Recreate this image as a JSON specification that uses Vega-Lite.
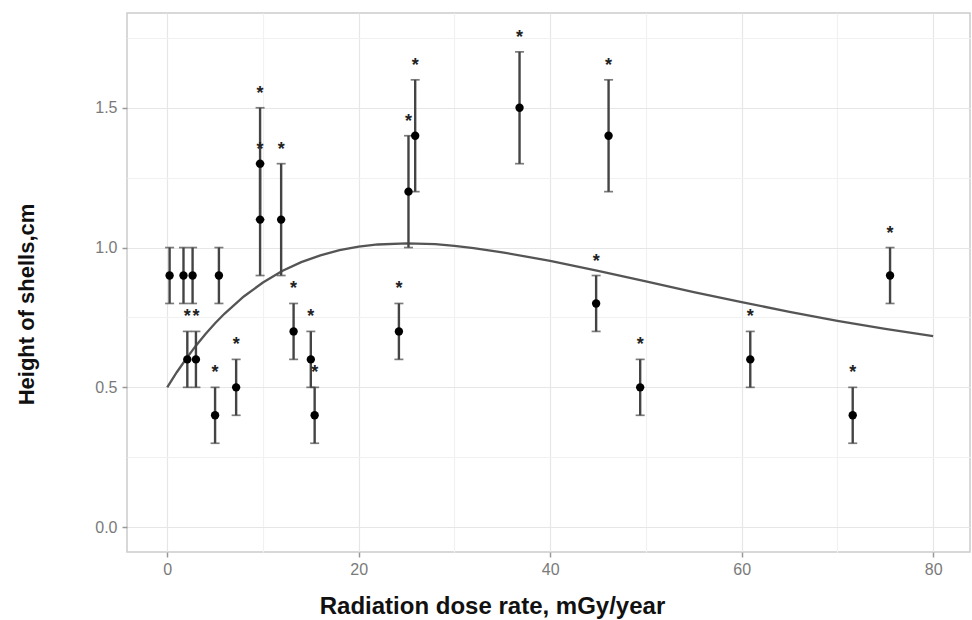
{
  "$schema": "https://vega.github.io/schema/vega-lite/v6.json",
  "width": 843,
  "height": 539,
  "autosize": "none",
  "padding": {"left": 127, "top": 13, "right": 2, "bottom": 68},
  "background": "white",
  "config": {
    "view": {"stroke": "#cccccc", "strokeWidth": 1.5},
    "font": "Liberation Sans"
  },
  "datasets": {
    "points": [
      {"dose": 0.25, "height": 0.9, "lo": 0.8, "hi": 1.0, "star": 0},
      {"dose": 1.7, "height": 0.9, "lo": 0.8, "hi": 1.0, "star": 0},
      {"dose": 2.65, "height": 0.9, "lo": 0.8, "hi": 1.0, "star": 0},
      {"dose": 5.4, "height": 0.9, "lo": 0.8, "hi": 1.0, "star": 0},
      {"dose": 2.1, "height": 0.6, "lo": 0.5, "hi": 0.7, "star": 1},
      {"dose": 3.0, "height": 0.6, "lo": 0.5, "hi": 0.7, "star": 1},
      {"dose": 5.0, "height": 0.4, "lo": 0.3, "hi": 0.5, "star": 1},
      {"dose": 7.2, "height": 0.5, "lo": 0.4, "hi": 0.6, "star": 1},
      {"dose": 9.7, "height": 1.3, "lo": 1.1, "hi": 1.5, "star": 1},
      {"dose": 9.7, "height": 1.1, "lo": 0.9, "hi": 1.3, "star": 1},
      {"dose": 11.9, "height": 1.1, "lo": 0.9, "hi": 1.3, "star": 1},
      {"dose": 13.2, "height": 0.7, "lo": 0.6, "hi": 0.8, "star": 1},
      {"dose": 15.0, "height": 0.6, "lo": 0.5, "hi": 0.7, "star": 1},
      {"dose": 15.4, "height": 0.4, "lo": 0.3, "hi": 0.5, "star": 1},
      {"dose": 24.2, "height": 0.7, "lo": 0.6, "hi": 0.8, "star": 1},
      {"dose": 25.2, "height": 1.2, "lo": 1.0, "hi": 1.4, "star": 1},
      {"dose": 25.9, "height": 1.4, "lo": 1.2, "hi": 1.6, "star": 1},
      {"dose": 36.8, "height": 1.5, "lo": 1.3, "hi": 1.7, "star": 1},
      {"dose": 44.8, "height": 0.8, "lo": 0.7, "hi": 0.9, "star": 1},
      {"dose": 46.1, "height": 1.4, "lo": 1.2, "hi": 1.6, "star": 1},
      {"dose": 49.4, "height": 0.5, "lo": 0.4, "hi": 0.6, "star": 1},
      {"dose": 60.9, "height": 0.6, "lo": 0.5, "hi": 0.7, "star": 1},
      {"dose": 71.6, "height": 0.4, "lo": 0.3, "hi": 0.5, "star": 1},
      {"dose": 75.5, "height": 0.9, "lo": 0.8, "hi": 1.0, "star": 1}
    ],
    "curve": [
      {"dose": 0, "fit": 0.5},
      {"dose": 1, "fit": 0.554},
      {"dose": 2, "fit": 0.603},
      {"dose": 3, "fit": 0.649},
      {"dose": 4, "fit": 0.691},
      {"dose": 5, "fit": 0.729},
      {"dose": 6, "fit": 0.764},
      {"dose": 8, "fit": 0.825},
      {"dose": 10, "fit": 0.875},
      {"dose": 12, "fit": 0.916},
      {"dose": 14, "fit": 0.948},
      {"dose": 16, "fit": 0.972},
      {"dose": 18, "fit": 0.991},
      {"dose": 20, "fit": 1.003},
      {"dose": 22, "fit": 1.011},
      {"dose": 25, "fit": 1.015},
      {"dose": 28, "fit": 1.012},
      {"dose": 30, "fit": 1.006},
      {"dose": 32, "fit": 0.998},
      {"dose": 35, "fit": 0.983},
      {"dose": 40, "fit": 0.952},
      {"dose": 45, "fit": 0.917},
      {"dose": 50, "fit": 0.879},
      {"dose": 55, "fit": 0.841},
      {"dose": 60, "fit": 0.805},
      {"dose": 65, "fit": 0.770},
      {"dose": 70, "fit": 0.738},
      {"dose": 75, "fit": 0.709},
      {"dose": 80, "fit": 0.683}
    ]
  },
  "encoding": {
    "x": {
      "field": "dose",
      "type": "quantitative",
      "scale": {"domain": [-4.2, 83.85], "nice": false, "zero": false},
      "axis": {
        "title": "Radiation dose rate, mGy/year",
        "values": [0, 10, 20, 30, 40, 50, 60, 70, 80],
        "labelExpr": "datum.value % 20 === 0 ? datum.label : ''",
        "domain": false,
        "grid": true,
        "gridColor": {"condition": {"test": "datum.value % 20 === 0", "value": "#e6e6e6"}, "value": "#f1f1f1"},
        "gridWidth": 1.2,
        "ticks": true,
        "tickColor": "#999999",
        "tickOpacity": {"condition": {"test": "datum.value % 20 === 0", "value": 1}, "value": 0},
        "tickSize": 5,
        "tickWidth": 1.5,
        "labelColor": "#7a7a7a",
        "labelFontSize": 16,
        "labelPadding": 4,
        "titleFontSize": 24,
        "titleFontWeight": "bold",
        "titleColor": "#111111",
        "titleX": 365,
        "titleY": 61,
        "titleAlign": "center",
        "titleBaseline": "alphabetic",
        "titleAnchor": null
      }
    }
  },
  "layer": [
    {
      "data": {"name": "curve"},
      "mark": {"type": "line", "color": "#555555", "strokeWidth": 2.3},
      "encoding": {
        "y": {
          "field": "fit",
          "type": "quantitative",
          "scale": {"domain": [-0.089, 1.839], "nice": false, "zero": false},
          "axis": {
            "title": "Height of shells,cm",
            "values": [0, 0.25, 0.5, 0.75, 1, 1.25, 1.5, 1.75],
            "labelExpr": "abs(datum.value * 2 - round(datum.value * 2)) < 0.001 ? format(datum.value, '.1f') : ''",
            "domain": false,
            "grid": true,
            "gridColor": {"condition": {"test": "abs(datum.value * 2 - round(datum.value * 2)) < 0.001", "value": "#e6e6e6"}, "value": "#f1f1f1"},
            "gridWidth": 1.2,
            "tickColor": "#999999",
            "tickOpacity": {"condition": {"test": "abs(datum.value * 2 - round(datum.value * 2)) < 0.001", "value": 1}, "value": 0},
            "tickSize": 5,
            "tickWidth": 1.5,
            "labelColor": "#7a7a7a",
            "labelFontSize": 16,
            "labelPadding": 5,
            "titleFontSize": 22,
            "titleFontWeight": "bold",
            "titleColor": "#111111",
            "titleAngle": -90,
            "titleX": -94,
            "titleY": 291,
            "titleAlign": "center",
            "titleBaseline": "alphabetic",
            "titleAnchor": null
          }
        }
      }
    },
    {
      "data": {"name": "points"},
      "mark": {"type": "rule", "color": "#444444", "strokeWidth": 2.4},
      "encoding": {
        "y": {"field": "lo", "type": "quantitative"},
        "y2": {"field": "hi"}
      }
    },
    {
      "data": {"name": "points"},
      "mark": {"type": "tick", "orient": "horizontal", "color": "#444444", "thickness": 1.7},
      "encoding": {
        "y": {"field": "hi", "type": "quantitative"},
        "size": {"value": 9}
      }
    },
    {
      "data": {"name": "points"},
      "mark": {"type": "tick", "orient": "horizontal", "color": "#444444", "thickness": 1.7},
      "encoding": {
        "y": {"field": "lo", "type": "quantitative"},
        "size": {"value": 9}
      }
    },
    {
      "data": {"name": "points"},
      "mark": {"type": "circle", "color": "#000000", "opacity": 1, "size": 70},
      "encoding": {
        "y": {"field": "height", "type": "quantitative"}
      }
    },
    {
      "data": {"name": "points"},
      "transform": [{"filter": "datum.star === 1"}],
      "mark": {"type": "text", "text": "*", "fontSize": 18, "fontWeight": "bold", "color": "#222222", "baseline": "alphabetic", "dy": -9},
      "encoding": {
        "y": {"field": "hi", "type": "quantitative"}
      }
    }
  ]
}
